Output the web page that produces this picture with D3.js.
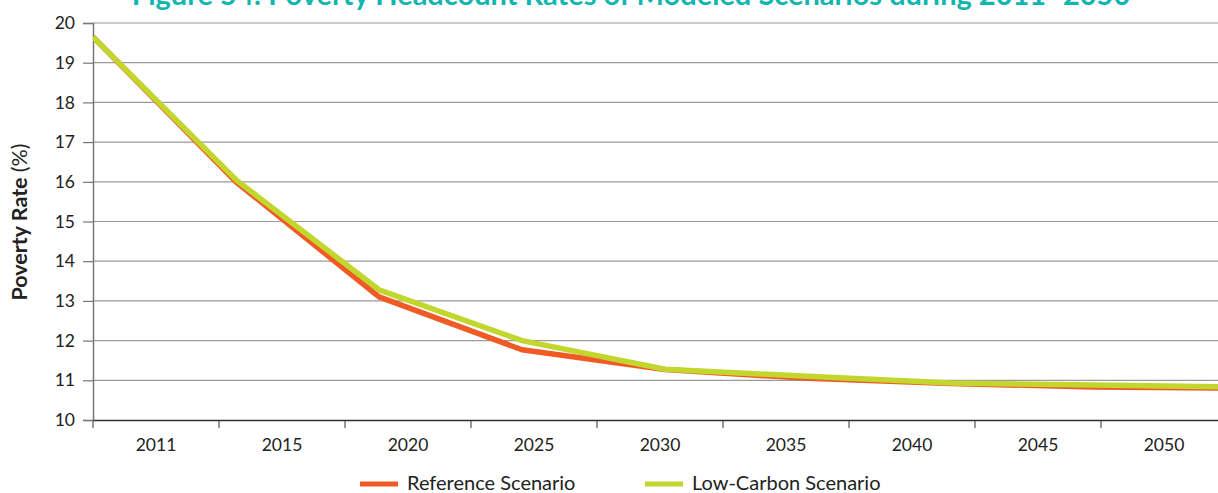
<!DOCTYPE html>
<html>
<head>
<meta charset="utf-8">
<script src="https://cdn.jsdelivr.net/npm/d3@7"></script>
<style>
  body { margin: 0; background: #fff; }
  svg { display: block; font-family: Lato, "Open Sans", sans-serif; }
  .grid line { stroke: #9a9a9a; stroke-width: 1.2; }
</style>
</head>
<body>
<div id="chart"></div>
<script>
// Poverty headcount rates, two scenarios

const years = ['2011', '2015', '2020', '2025', '2030', '2035', '2040', '2045', '2050'];
const referenceScenario = [19.65, 16.0, 13.1, 11.77, 11.27, 11.05, 10.92, 10.83, 10.8];
const lowCarbonScenario = [19.65, 16.05, 13.28, 12.0, 11.28, 11.1, 10.93, 10.88, 10.83];
const yTicks = [10, 11, 12, 13, 14, 15, 16, 17, 18, 19, 20];

const W = 1218, H = 493;
const plotLeft = 93, plotTop = 23, plotBottom = 420;
const TICK_FONT = 17.5;

const svg = d3.select('#chart').append('svg')
  .attr('width', W)
  .attr('height', H);

// title is cut off at the top in the original picture
svg.append('text')
  .attr('x', 631)
  .attr('y', 5)
  .attr('text-anchor', 'middle')
  .attr('font-size', 29)
  .attr('font-weight', 'bold')
  .attr('fill', '#12b5b0')
  .text('Figure 54: Poverty Headcount Rates of Modeled Scenarios during 2011–2050');

const y = d3.scaleLinear().domain([10, 20]).range([plotBottom, plotTop]);

// axis uses band slots, lines use their own point positions (as in the source)
const xBand = d3.scaleBand().domain(years).range([plotLeft, 1227]);
const xLine = d3.scalePoint().domain(years).range([plotLeft, 1237]);

// gridlines
svg.append('g').attr('class', 'grid')
  .selectAll('line')
  .data(yTicks.filter(d => d > 10))
  .join('line')
  .attr('x1', plotLeft).attr('x2', W)
  .attr('y1', d => y(d)).attr('y2', d => y(d))
  .attr('stroke', d => d === 20 ? '#777' : null);

// y axis
const yAxis = svg.append('g')
  .attr('transform', `translate(${plotLeft},0)`)
  .call(d3.axisLeft(y).tickValues(yTicks).tickSize(10).tickPadding(8))
  .attr('font-size', TICK_FONT)
  .attr('font-family', 'Lato, sans-serif');
yAxis.select('.domain').attr('stroke', '#777').attr('stroke-width', 1.5);
yAxis.selectAll('.tick line').attr('stroke', '#777').attr('stroke-width', 1.2);
yAxis.selectAll('.tick text').attr('fill', '#222');

// x axis
const xAxis = svg.append('g')
  .attr('transform', `translate(0,${plotBottom})`)
  .call(d3.axisBottom(xBand).tickSize(0).tickPadding(19))
  .attr('font-size', TICK_FONT)
  .attr('font-family', 'Lato, sans-serif');
xAxis.select('.domain').attr('stroke', '#333').attr('stroke-width', 1.5);
xAxis.selectAll('.tick text').attr('fill', '#222');

// ticks between categories
svg.append('g')
  .selectAll('line')
  .data(years)
  .join('line')
  .attr('x1', d => xBand(d)).attr('x2', d => xBand(d))
  .attr('y1', plotBottom + 1).attr('y2', plotBottom + 8)
  .attr('stroke', '#555').attr('stroke-width', 1.2);

// lines
const line = d3.line()
  .x((d, i) => xLine(years[i]))
  .y(d => y(d));

const series = [
  { name: 'Reference Scenario', values: referenceScenario, color: '#f15a24' },
  { name: 'Low-Carbon Scenario', values: lowCarbonScenario, color: '#c2d62e' },
];

svg.append('clipPath').attr('id', 'plot-clip')
  .append('rect').attr('x', plotLeft).attr('y', 0).attr('width', W - plotLeft).attr('height', plotBottom);

svg.append('g').attr('clip-path', 'url(#plot-clip)')
  .selectAll('path')
  .data(series)
  .join('path')
  .attr('d', d => line(d.values))
  .attr('fill', 'none')
  .attr('stroke', d => d.color)
  .attr('stroke-width', 5.5)
  .attr('stroke-linejoin', 'round');

// y axis title
const yTitle = svg.append('text')
  .attr('transform', 'translate(27,222) rotate(-90)')
  .attr('text-anchor', 'middle')
  .attr('font-size', 21.5)
  .attr('fill', '#222');
yTitle.append('tspan').attr('font-weight', 'bold').text('Poverty Rate ');
yTitle.append('tspan').text('(%)');

// legend
const legendX = [360, 645];
const legend = svg.append('g')
  .selectAll('g')
  .data(series)
  .join('g')
  .attr('transform', (d, i) => `translate(${legendX[i]},484)`);
legend.append('line')
  .attr('x1', 0).attr('x2', 38)
  .attr('y1', 0).attr('y2', 0)
  .attr('stroke', d => d.color)
  .attr('stroke-width', 5);
legend.append('text')
  .attr('x', 47)
  .attr('y', 6)
  .attr('font-size', 20)
  .attr('fill', '#222')
  .text(d => d.name);
</script>
</body>
</html>
